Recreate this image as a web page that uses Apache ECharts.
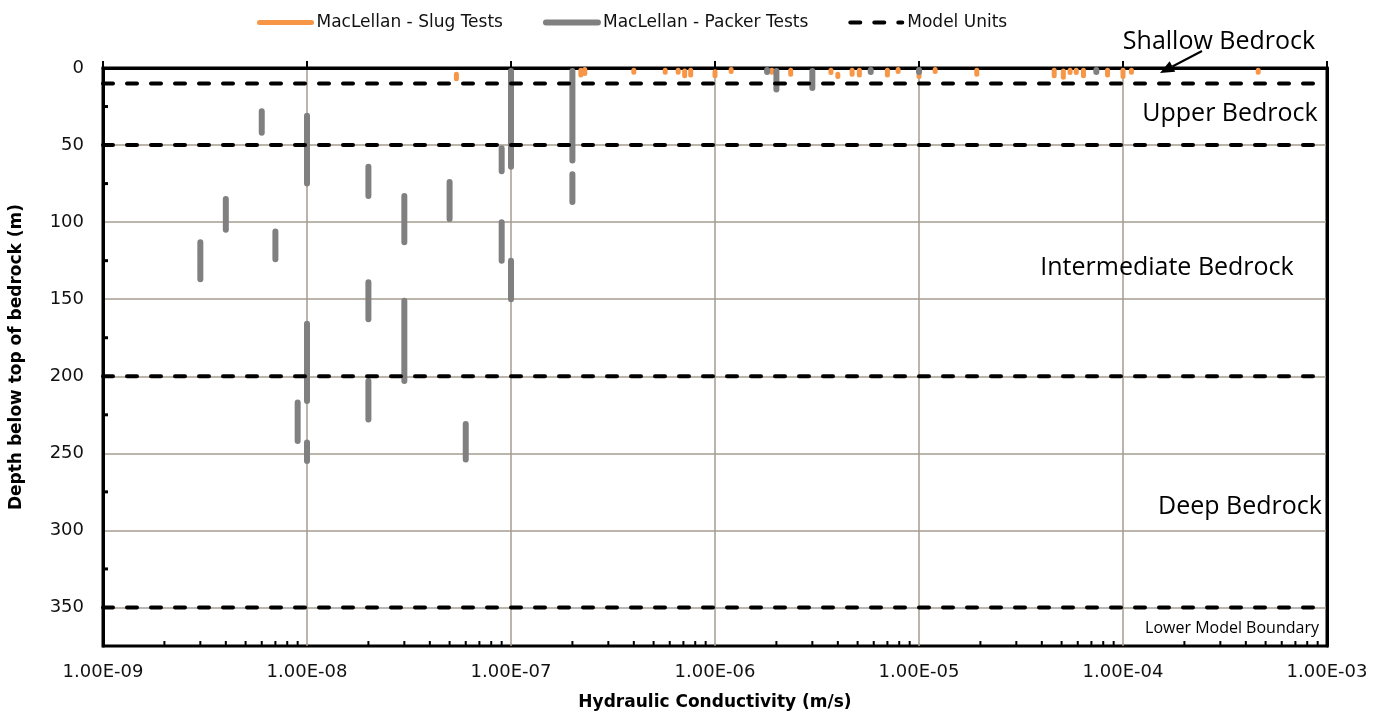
<!DOCTYPE html>
<html>
<head>
<meta charset="utf-8">
<script src="https://cdn.jsdelivr.net/npm/echarts@6/dist/echarts.min.js"></script>
<style>html,body{margin:0;padding:0;background:#fff}#c{width:1386px;height:721px}</style>
</head>
<body>
<div id="c"></div>
<script>
// ---- Data ----
// Packer tests: hydraulic conductivity (m/s) and depth interval (m below top of bedrock)
const packerK      = [3e-9, 4e-9, 6e-9, 7e-9, 9e-9, 1e-8, 1e-8, 1e-8, 1e-8, 2e-8, 2e-8, 2e-8, 3e-8, 3e-8, 5e-8, 6e-8, 9e-8, 9e-8, 1e-7, 1e-7, 1e-7, 2e-7, 2e-7, 2e-7, 1.8e-6, 2e-6, 3e-6, 5.8e-6, 1e-5, 7.4e-5];
const packerTop    = [113, 85, 28, 106, 217, 31, 166, 192, 243, 64, 139, 203, 83, 151, 74, 231, 52, 100, 2, 32, 125, 2, 32, 69, 1.3, 2, 2, 1.3, 1.3, 1.3];
const packerBottom = [137, 105, 42, 124, 242, 75, 194, 216, 255, 83, 163, 228, 113, 203, 98, 254, 67, 125, 34, 64, 150, 38, 60, 87, 2.6, 14, 13, 2.6, 2.6, 2.6];
// Slug tests
const slugK      = [5.4e-8, 2.2e-7, 2.3e-7, 4e-7, 5.7e-7, 6.6e-7, 7.1e-7, 7.6e-7, 1e-6, 1.2e-6, 1.9e-6, 2.35e-6, 3.7e-6, 4.0e-6, 4.7e-6, 5.1e-6, 7e-6, 7.9e-6, 1e-5, 1.2e-5, 1.92e-5, 4.6e-5, 5.1e-5, 5.5e-5, 5.9e-5, 6.4e-5, 8.4e-5, 1e-4, 1.1e-4, 4.6e-4];
const slugTop    = [4, 1.5, 1, 1.5, 1.5, 1.5, 2, 1.5, 2.5, 1, 1.5, 1.5, 1.5, 4, 1.5, 1.5, 1.5, 1, 4, 1, 1.5, 1.5, 2, 1.5, 1.5, 1.5, 1.5, 1.5, 1.5, 1.5];
const slugBottom = [7, 4.5, 3.5, 2.7, 2.7, 2.7, 5, 4.5, 5, 2.2, 2.7, 4, 3, 5.5, 4, 4.5, 4.5, 2.2, 5.5, 2.2, 4, 5, 6, 3, 3, 5, 4.5, 5.5, 2.7, 2.7];
// Model unit boundaries (depth, m)
const modelDepths = [10, 50, 200, 350];
// Axis ranges / ticks
const kMin = 1e-9, kMax = 1e-3;
const depthMax = 375, depthInterval = 50;
const depthMinorTicks = [25, 75, 125, 175, 225, 275, 325];
const kMinorMantissas = [2, 3, 4, 5, 6, 7, 8, 9];
const kDecades = [-9, -8, -7, -6, -5, -4];
// Annotations
const unitLabels = ['Shallow Bedrock', 'Upper Bedrock', 'Intermediate Bedrock', 'Deep Bedrock'];
const boundaryLabel = 'Lower Model Boundary';

const seriesNames = ['MacLellan - Slug Tests', 'MacLellan - Packer Tests', 'Model Units'];

function segData(k, top, bot) {
  const out = [];
  for (let i = 0; i < k.length; i++) {
    out.push([k[i], top[i]], [k[i], bot[i]], [k[i], '-']);
  }
  return out;
}
const modelData = [];
modelDepths.forEach(d => { modelData.push([kMin, d], [kMax, d], [kMax, '-']); });

const kMinorTicks = [];
kDecades.forEach(e => kMinorMantissas.forEach(m => kMinorTicks.push([m * Math.pow(10, e), depthMax])));
const yMinorTicks = depthMinorTicks.map(d => [kMin, d]);

function fmtK(v) {
  const e = Math.round(Math.log10(v));
  return '1.00E' + (e < 0 ? '-' : '+') + String(Math.abs(e)).padStart(2, '0');
}

const gothic = 'DejaVu Sans';
const calibri = 'Open Sans';

const chart = echarts.init(document.getElementById('c'), null, {renderer: 'canvas'});

const option = {
  animation: false,
  backgroundColor: '#fff',
  grid: {left: 101, right: 59, top: 68, bottom: 75, show: true, borderColor: '#000', borderWidth: 3, containLabel: false},
  legend: {
    data: seriesNames,
    left: 252, top: 9,
    itemWidth: 52, itemHeight: 14, itemGap: 40,
    itemStyle: {opacity: 0},
    lineStyle: {width: 'inherit'},
    textStyle: {fontFamily: gothic, fontSize: 17, color: '#111'}
  },
  xAxis: {
    type: 'log', logBase: 10, min: kMin, max: kMax,
    name: 'Hydraulic Conductivity (m/s)', nameLocation: 'middle', nameGap: 48,
    nameTextStyle: {fontFamily: gothic, fontWeight: 'bold', fontSize: 17, color: '#000'},
    axisLine: {show: true, lineStyle: {color: '#000', width: 3}},
    axisTick: {show: true, inside: true, length: 7, lineStyle: {color: '#000', width: 2}},
    axisLabel: {formatter: fmtK, fontFamily: gothic, fontSize: 18, color: '#111', margin: 17},
    splitLine: {show: true, showMinLine: false, showMaxLine: false, lineStyle: {color: '#a49c90', width: 1.5}},
    minorTick: {show: false}
  },
  yAxis: [{
    type: 'value', inverse: true, min: 0, max: depthMax, interval: depthInterval,
    name: 'Depth below top of bedrock (m)', nameLocation: 'middle', nameGap: 78,
    nameTextStyle: {fontFamily: gothic, fontWeight: 'bold', fontSize: 17, color: '#000'},
    axisLine: {show: true, lineStyle: {color: '#000', width: 3}},
    axisTick: {show: false},
    axisLabel: {fontFamily: gothic, fontSize: 18, color: '#111', margin: 19, showMaxLabel: false},
    splitLine: {show: true, showMinLine: false, showMaxLine: false, lineStyle: {color: '#a49c90', width: 1.5}}
  }, {
    type: 'value', inverse: true, min: 0, max: depthMax, interval: depthInterval, position: 'right',
    axisLine: {show: true, onZero: false, lineStyle: {color: '#000', width: 3}},
    axisTick: {show: false}, axisLabel: {show: false}, splitLine: {show: false}, z: 10
  }],
  series: [
    {
      name: seriesNames[0], type: 'line', data: segData(slugK, slugTop, slugBottom),
      showSymbol: false, symbol: 'none', connectNulls: false, z: 3,
      lineStyle: {color: '#f79646', width: 5, cap: 'round'}, itemStyle: {color: '#f79646'}
    },
    {
      name: seriesNames[1], type: 'line', data: segData(packerK, packerTop, packerBottom),
      showSymbol: false, symbol: 'none', connectNulls: false, z: 4,
      lineStyle: {color: '#808080', width: 6, cap: 'round'}, itemStyle: {color: '#808080'}
    },
    {
      name: seriesNames[2], type: 'line', data: modelData,
      showSymbol: false, symbol: 'none', connectNulls: false, z: 5,
      lineStyle: {color: '#000', width: 4, type: [10, 14], cap: 'round'}, itemStyle: {color: '#000'}
    },
    {
      type: 'custom', data: kMinorTicks, z: 6, silent: true,
      renderItem: function (params, api) {
        const p = api.coord([api.value(0), api.value(1)]);
        return {type: 'line', shape: {x1: p[0], y1: p[1], x2: p[0], y2: p[1] - 5}, style: {stroke: '#000', lineWidth: 2}};
      }
    },
    {
      type: 'custom', data: yMinorTicks, z: 6, silent: true,
      renderItem: function (params, api) {
        const p = api.coord([api.value(0), api.value(1)]);
        return {type: 'line', shape: {x1: p[0], y1: p[1], x2: p[0] + 5, y2: p[1]}, style: {stroke: '#000', lineWidth: 3}};
      }
    }
  ]
};
chart.setOption(option);

// Annotations
const arrowFrom = [1202, 51], arrowTo = [1160, 73];
const dx = arrowTo[0] - arrowFrom[0], dy = arrowTo[1] - arrowFrom[1];
const len = Math.sqrt(dx * dx + dy * dy), ux = dx / len, uy = dy / len;
const headL = 14, headW = 6;
const base = [arrowTo[0] - ux * headL, arrowTo[1] - uy * headL];
const txtStyle = (t, x, y, size) => ({type: 'text', x: x, y: y, z: 10,
  style: {text: t, fontFamily: calibri, fontSize: size, fill: '#000', align: 'center', verticalAlign: 'middle'}});
chart.setOption({
  graphic: [
    txtStyle(unitLabels[0], 1219, 42, 25),
    txtStyle(unitLabels[1], 1230, 114, 25),
    txtStyle(unitLabels[2], 1167, 268, 25),
    txtStyle(unitLabels[3], 1240, 507, 25),
    txtStyle(boundaryLabel, 1232, 628, 16),
    {type: 'line', z: 10, shape: {x1: arrowFrom[0], y1: arrowFrom[1], x2: base[0], y2: base[1]}, style: {stroke: '#000', lineWidth: 2}},
    {type: 'polygon', z: 10, shape: {points: [arrowTo, [base[0] - uy * headW, base[1] + ux * headW], [base[0] + uy * headW, base[1] - ux * headW]]}, style: {fill: '#000'}}
  ]
});
</script>
</body>
</html>
